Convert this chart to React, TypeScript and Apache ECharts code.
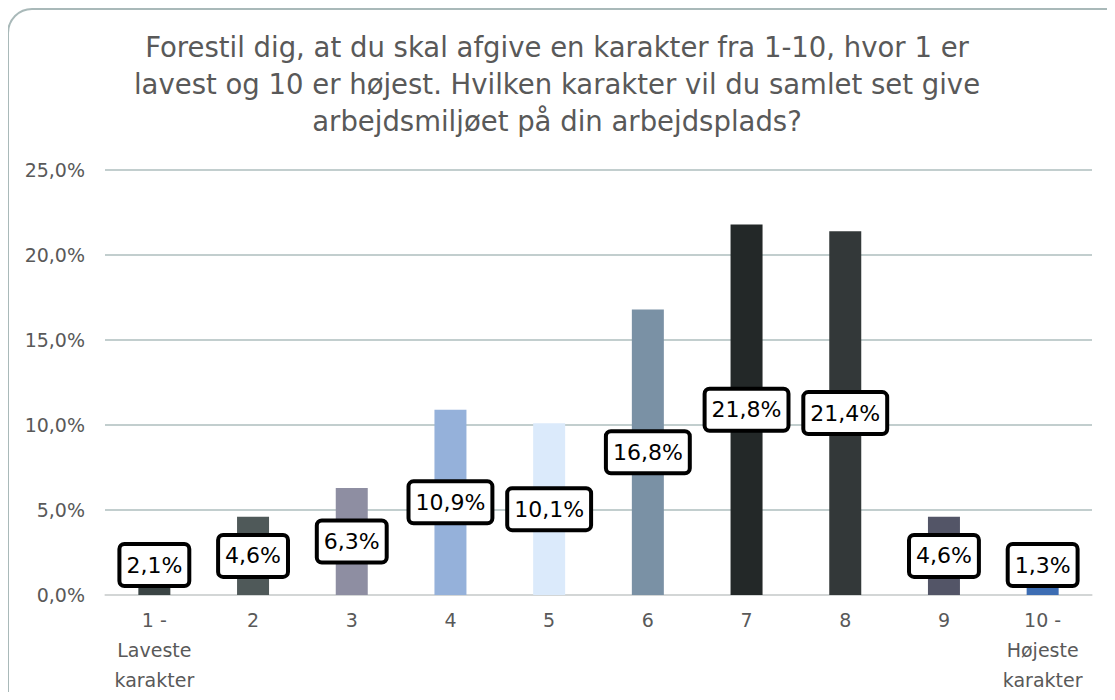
import React, { useEffect, useRef } from "react";
import * as echarts from "echarts";

const categories = [
  "1 -\nLaveste\nkarakter",
  "2",
  "3",
  "4",
  "5",
  "6",
  "7",
  "8",
  "9",
  "10 -\nHøjeste\nkarakter",
];
const values = [2.1, 4.6, 6.3, 10.9, 10.1, 16.8, 21.8, 21.4, 4.6, 1.3];
const barColors = [
  "#3a4444",
  "#4f5959",
  "#8e8ea2",
  "#95b1da",
  "#dbeafb",
  "#7a91a5",
  "#232828",
  "#333839",
  "#535567",
  "#3d6db3",
];
const yTicks = { min: 0, max: 25, interval: 5 };
const titleText =
  "Forestil dig, at du skal afgive en karakter fra 1-10, hvor 1 er\nlavest og 10 er højest. Hvilken karakter vil du samlet set give\narbejdsmiljøet på din arbejdsplads?";

const FONT = "'DejaVu Sans', sans-serif";
const fmt = (v: number) => v.toFixed(1).replace(".", ",") + "%";

export default function App() {
  const ref = useRef<HTMLDivElement>(null);
  useEffect(() => {
    if (!ref.current) return;
    const chart = echarts.init(ref.current, undefined, { renderer: "svg" });
    const gridTop = 170;
    const gridBottom = 105;
    const plotH = 700 - gridTop - gridBottom;
    const pxPerUnit = plotH / (yTicks.max - yTicks.min);
    chart.setOption({
      animation: false,
      backgroundColor: "#ffffff",
      graphic: [
        {
          type: "rect",
          shape: { x: 8, y: 9, width: 1130, height: 720, r: 24 },
          style: { fill: "none", stroke: "#a9b9b9", lineWidth: 2 },
          silent: true,
          z: 100,
        },
        {
          type: "text",
          x: 557,
          y: 28,
          style: {
            text: titleText,
            fontFamily: FONT,
            fontSize: 27.5,
            lineHeight: 37,
            fill: "#595959",
            align: "center",
            verticalAlign: "top",
          },
          silent: true,
        },
      ],
      grid: { left: 105, right: 23, top: gridTop, bottom: gridBottom },
      xAxis: {
        type: "category",
        data: categories,
        axisLine: { show: true, lineStyle: { color: "#d9d9d9", width: 1.5 } },
        axisTick: { show: false },
        axisLabel: {
          interval: 0,
          fontFamily: FONT,
          fontSize: 19,
          lineHeight: 30,
          color: "#595959",
          margin: 10,
        },
      },
      yAxis: {
        type: "value",
        min: yTicks.min,
        max: yTicks.max,
        interval: yTicks.interval,
        axisLine: { show: false },
        axisTick: { show: false },
        splitLine: { lineStyle: { color: "#aebebe", width: 1.5 } },
        axisLabel: {
          formatter: (v: number) => fmt(v),
          fontFamily: FONT,
          fontSize: 19,
          color: "#595959",
          margin: 20,
        },
      },
      series: [
        {
          type: "bar",
          barWidth: 32,
          data: values.map((v, i) => {
            const half = (v * pxPerUnit) / 2;
            const off = half < 30 ? -(30 - half) : 0;
            return {
              value: v,
              itemStyle: { color: barColors[i] },
              label: { offset: [0, off] },
            };
          }),
          label: {
            show: true,
            position: "inside",
            formatter: (p: any) => fmt(p.value),
            fontFamily: FONT,
            fontSize: 22,
            lineHeight: 27,
            color: "#000000",
            backgroundColor: "#ffffff",
            borderColor: "#000000",
            borderWidth: 4,
            borderRadius: 3,
            padding: [6, 5, 5, 5],
          },
        },
      ],
    });
    return () => chart.dispose();
  }, []);
  return <div ref={ref} style={{ width: 1115, height: 700, margin: -8 }} />;
}
